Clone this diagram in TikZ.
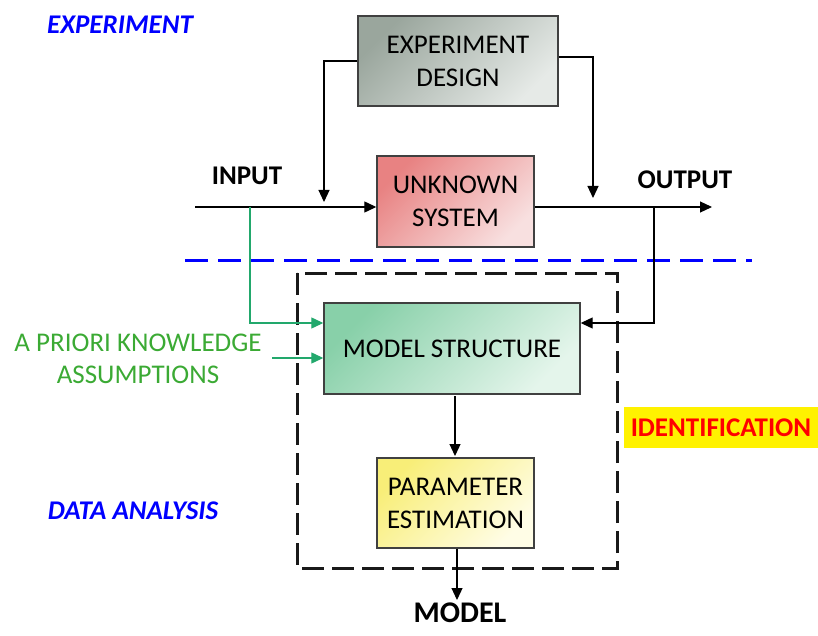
\documentclass[tikz,border=0pt]{standalone}
\usepackage{fontspec}
\setmainfont{Carlito}
\usetikzlibrary{arrows.meta}
\definecolor{edA}{HTML}{9AA69D}
\definecolor{edB}{HTML}{E6EAE7}
\definecolor{usA}{HTML}{E88282}
\definecolor{usB}{HTML}{F8E0E0}
\definecolor{msA}{HTML}{88D0A9}
\definecolor{msB}{HTML}{E4F5EB}
\definecolor{peA}{HTML}{F8EE78}
\definecolor{peB}{HTML}{FFFDE6}
\definecolor{grn}{HTML}{22A86C}
\definecolor{grtxt}{HTML}{3BAA34}
\tikzset{
  blk/.style={draw=black!75, line width=1.4pt, inner sep=0pt, align=center,
    font=\fontsize{27}{33}\selectfont, shading angle=45},
  arr/.style={line width=1.2pt, -{Triangle[length=12pt,width=11pt]}},
  garr/.style={arr, draw=grn, -{Triangle[length=12pt,width=11pt,fill=grn]}},
  lbl/.style={font=\fontsize{27}{30}\selectfont\bfseries, inner sep=0pt},
  hd/.style={font=\fontsize{27}{30}\selectfont\bfseries\itshape, text=blue, inner sep=0pt}
}
\begin{document}
\begin{tikzpicture}[x=1pt,y=-1pt]
\useasboundingbox (0,0) rectangle (818,636);
% blue separator
\draw[blue, line width=3pt, dash pattern=on 23pt off 10pt] (185,260) -- (752,260);
% dashed identification frame
\draw[black!90, line width=3pt, dash pattern=on 22pt off 8pt] (297,273) rectangle (617,568);
% boxes
\node[blk, top color=edA, bottom color=edB, shading angle=45, minimum width=200pt, minimum height=90pt] (ED) at (458,61) {EXPERIMENT\\DESIGN};
\node[blk, top color=usA, bottom color=usB, shading angle=45, minimum width=157pt, minimum height=91pt] (US) at (455.5,201.5) {UNKNOWN\\SYSTEM};
\node[blk, top color=msA, bottom color=msB, shading angle=45, minimum width=256pt, minimum height=91pt] (MS) at (452,348.5) {MODEL STRUCTURE};
\node[blk, top color=peA, bottom color=peB, shading angle=45, minimum width=157pt, minimum height=90pt] (PE) at (455.5,503) {PARAMETER\\ESTIMATION};
% labels
\node[hd] (EXP) at (120,25) {EXPERIMENT};
\node[hd] (DA) at (133,511) {DATA ANALYSIS};
\node[lbl] (IN) at (247,176) {INPUT};
\node[lbl] (OUT) at (685,180) {OUTPUT};
\node[lbl, anchor=north, font=\fontsize{30}{34}\selectfont\bfseries] (MOD) at (460,603) {MODEL};
\node[fill=yellow, minimum width=194pt, minimum height=41pt, inner sep=0pt, text=red, font=\fontsize{27}{30}\selectfont\bfseries] (ID) at (721,427.5) {IDENTIFICATION};
\node[text=grtxt, font=\fontsize{27}{32}\selectfont, align=center, inner sep=0pt] (AP) at (138,359) {A PRIORI KNOWLEDGE\\ASSUMPTIONS};
% coordinates
\coordinate (in) at (195,207);
\coordinate (c1) at (324,202);
\coordinate (c2) at (593,198);
\coordinate (oute) at (712,207);
\coordinate (ob) at (654,207);
\coordinate (gb) at (250,207);
\coordinate (ap) at (272,358);
% connectors
\draw[arr] (in) -- (in -| US.west);
\draw[line width=1.2pt] (US.east |- in) -- (ob);
\draw[arr] (ob) -- (oute);
\draw[arr] (ED.west) -| (c1);
\draw[arr] (ED.east |- 0,57) -| (c2);
\draw[arr] (ob) |- (MS.east |- 0,323);
\draw[garr] (gb) |- (MS.west |- 0,323);
\draw[garr] (ap) -- (MS.west |- ap);
\draw[arr] (455,396) -- (455,456);
\draw[arr] (PE.south -| 457,0) -- (457,600);
\end{tikzpicture}
\end{document}
